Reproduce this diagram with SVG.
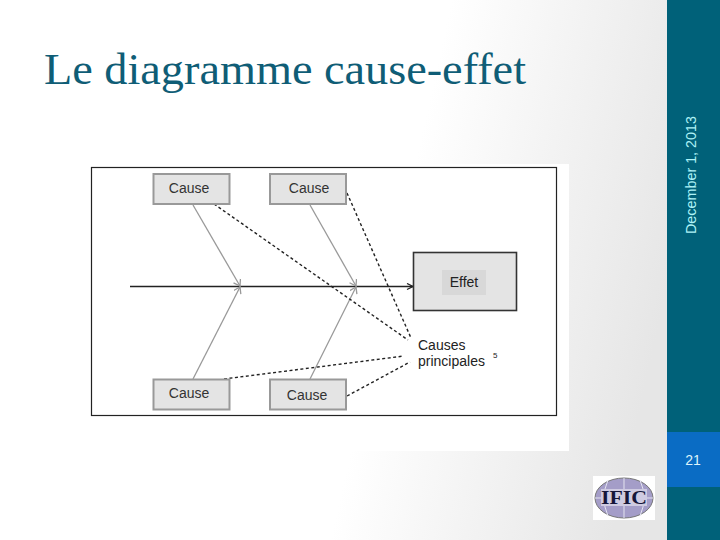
<svg xmlns="http://www.w3.org/2000/svg" width="720" height="540" viewBox="0 0 720 540">
<defs>
<linearGradient id="bg" gradientUnits="userSpaceOnUse" x1="400" y1="230" x2="667" y2="290">
<stop offset="0" stop-color="#ffffff"/><stop offset="1" stop-color="#e6e6e6"/>
</linearGradient>
<marker id="ga" markerWidth="10" markerHeight="10" refX="7" refY="4" orient="auto" markerUnits="userSpaceOnUse"><path d="M1 0L7 4L1 8" fill="none" stroke="#999" stroke-width="1.300"/></marker>
<marker id="ka" markerWidth="10" markerHeight="10" refX="7" refY="4" orient="auto" markerUnits="userSpaceOnUse"><path d="M1 1L7 4L1 7" fill="none" stroke="#222" stroke-width="1.300"/></marker>
</defs>
<style>
text{font-family:"Liberation Sans",Arial,sans-serif}
.c{fill:#e4e4e4;stroke:#999;stroke-width:2}
.t{font-size:14px;fill:#333;text-anchor:middle}
.g{stroke:#999;stroke-width:1.300;fill:none;marker-end:url(#ga)}
.d{stroke:#222;stroke-width:1.400;stroke-dasharray:3 2.500;fill:none}
</style>
<rect width="720" height="540" fill="url(#bg)"/>
<rect x="84" y="164" width="485" height="287" fill="#ffffff"/>
<rect x="667" y="0" width="53" height="540" fill="#006179"/>
<rect x="667" y="432" width="53" height="55" fill="#0a6cc4"/>
<text x="44" y="84" font-size="44" style="font-family:'Liberation Serif',serif" fill="#0f5d76" textLength="482" lengthAdjust="spacingAndGlyphs">Le diagramme cause-effet</text>
<text transform="translate(696 234) rotate(-90)" font-size="14.500" fill="#aef3f7" textLength="118" lengthAdjust="spacingAndGlyphs">December 1, 2013</text>
<text x="693" y="465" font-size="14" fill="#dff4fb" text-anchor="middle">21</text>
<rect x="91.500" y="167.500" width="465" height="248" fill="#fff" stroke="#222" stroke-width="1.200"/>
<g id="connectors">
<path d="M130 286.500H413" stroke="#222" stroke-width="1.300" fill="none" marker-end="url(#ka)"/>
<path class="g" d="M193 205L240 286"/>
<path class="g" d="M193 379L240 287"/>
<path class="g" d="M310 205L356 286"/>
<path class="g" d="M310 379L356 287"/>
<path class="d" d="M214 204L408 340"/>
<path class="d" d="M347 193L411 338"/>
<path class="d" d="M224 379L404 356"/>
<path class="d" d="M347 396L410 362"/>
</g>
<g id="cause1"><rect class="c" x="153.500" y="174" width="76" height="30"/><text class="t" x="189" y="193">Cause</text></g>
<g id="cause2"><rect class="c" x="270" y="174" width="76" height="30"/><text class="t" x="309" y="193">Cause</text></g>
<g id="cause3"><rect class="c" x="153.500" y="379.500" width="76" height="30"/><text class="t" x="189" y="398">Cause</text></g>
<g id="cause4"><rect class="c" x="270" y="379.500" width="76" height="30"/><text class="t" x="307" y="400">Cause</text></g>
<g id="effet"><rect x="413.500" y="252.500" width="103" height="58" fill="#e4e4e4" stroke="#333" stroke-width="1.600"/><rect x="442" y="270" width="44" height="25" fill="#d8d8d8"/><text x="464" y="287" font-size="14" fill="#222" text-anchor="middle">Effet</text></g>
<g id="causes-principales"><text x="418" y="350" font-size="14" fill="#222">Causes</text><text x="418" y="366" font-size="14" fill="#222">principales</text><text x="493" y="358" font-size="8" fill="#222">5</text></g>
<g id="logo">
<rect x="593" y="476" width="62" height="44" fill="#fff"/>
<ellipse cx="624" cy="498" rx="29" ry="20" fill="#a49dc8" stroke="#777" stroke-width="1"/>
<path d="M595 498H653M624 478V518M608 480Q600 498 608 516M640 480Q648 498 640 516" stroke="#e4e4f0" stroke-width="1" fill="none"/>
<rect x="601" y="489" width="46" height="17" fill="#cfcbe2"/>
<text x="624" y="504" font-size="18" font-weight="bold" style="font-family:'Liberation Serif',serif" fill="#16163a" text-anchor="middle" textLength="46" lengthAdjust="spacingAndGlyphs">IFIC</text>
</g>
</svg>
